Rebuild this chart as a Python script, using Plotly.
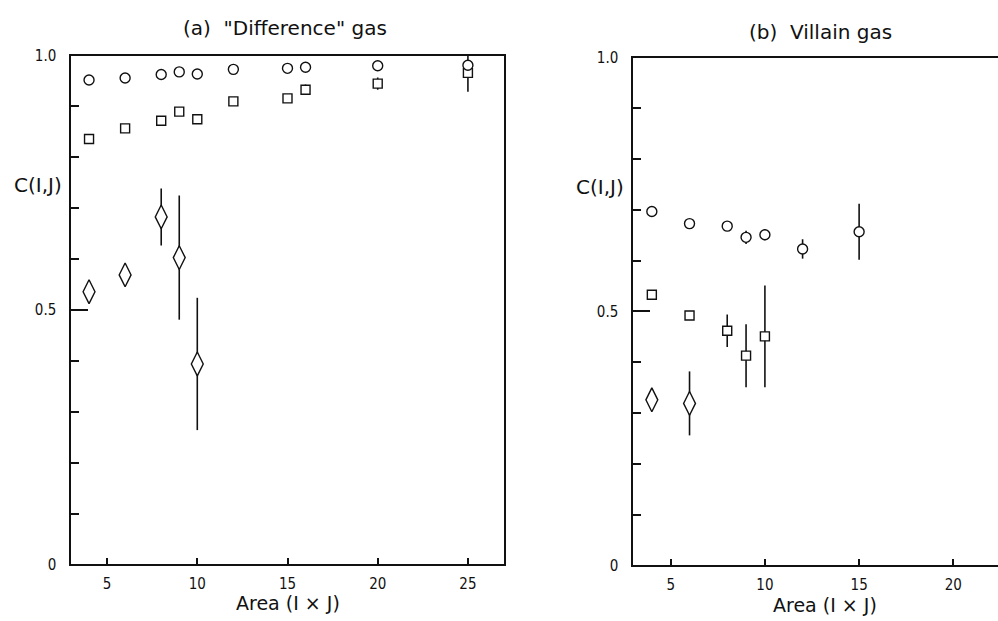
import plotly.graph_objects as go

# ---- data: panel (a) "Difference" gas ----
area_a_circ = [4, 6, 8, 9, 10, 12, 15, 16, 20, 25]
c_a_circ = [0.952, 0.956, 0.963, 0.968, 0.964, 0.973, 0.975, 0.977, 0.980, 0.981]
area_a_sq = [4, 6, 8, 9, 10, 12, 15, 16, 20, 25]
c_a_sq = [0.836, 0.857, 0.872, 0.890, 0.875, 0.910, 0.916, 0.933, 0.945, 0.966]
err_a_sq_plus = [0, 0, 0, 0, 0, 0, 0, 0.010, 0.012, 0.034]
err_a_sq_minus = [0, 0, 0, 0, 0, 0, 0, 0.010, 0.012, 0.037]
area_a_dia = [4, 6, 8, 9, 10]
c_a_dia = [0.536, 0.569, 0.683, 0.603, 0.394]
err_a_dia = [0, 0, 0.056, 0.122, 0.130]

# ---- data: panel (b) Villain gas ----
area_b_circ = [4, 6, 8, 9, 10, 12, 15]
c_b_circ = [0.697, 0.673, 0.668, 0.646, 0.651, 0.623, 0.657]
err_b_circ = [0, 0, 0, 0.013, 0.011, 0.019, 0.055]
area_b_sq = [4, 6, 8, 9, 10]
c_b_sq = [0.533, 0.492, 0.462, 0.413, 0.451]
err_b_sq = [0, 0, 0.032, 0.062, 0.100]
area_b_dia = [4, 6]
c_b_dia = [0.326, 0.319]
err_b_dia = [0, 0.063]

x_ticks_a = [5, 10, 15, 20, 25]
x_ticks_b = [5, 10, 15, 20]
y_ticks = [0, 0.5, 1.0]
y_ticktext = ["0", "0.5", "1.0"]

FONT_C = "DejaVu Sans Condensed, DejaVu Sans, sans-serif"
FONT = "DejaVu Sans, sans-serif"
BLACK = "#111111"


def marker(symbol, size):
    return dict(symbol=symbol, size=size, color="white",
                line=dict(color=BLACK, width=1.4))


def eb(arr, arrminus=None):
    d = dict(type="data", array=arr, visible=True, color=BLACK,
             thickness=1.6, width=0)
    if arrminus is not None:
        d["symmetric"] = False
        d["arrayminus"] = arrminus
    return d


fig = go.Figure()

# panel (a)
fig.add_trace(go.Scatter(x=area_a_dia, y=c_a_dia, mode="markers",
                         marker=marker("diamond-tall", 17), error_y=eb(err_a_dia),
                         xaxis="x", yaxis="y"))
fig.add_trace(go.Scatter(x=area_a_sq, y=c_a_sq, mode="markers",
                         marker=marker("square", 9),
                         error_y=eb(err_a_sq_plus, err_a_sq_minus),
                         xaxis="x", yaxis="y"))
fig.add_trace(go.Scatter(x=area_a_circ, y=c_a_circ, mode="markers",
                         marker=marker("circle", 10), xaxis="x", yaxis="y"))

# panel (b)
fig.add_trace(go.Scatter(x=area_b_dia, y=c_b_dia, mode="markers",
                         marker=marker("diamond-tall", 17), error_y=eb(err_b_dia),
                         xaxis="x2", yaxis="y2"))
fig.add_trace(go.Scatter(x=area_b_sq, y=c_b_sq, mode="markers",
                         marker=marker("square", 9), error_y=eb(err_b_sq),
                         xaxis="x2", yaxis="y2"))
fig.add_trace(go.Scatter(x=area_b_circ, y=c_b_circ, mode="markers",
                         marker=marker("circle", 10), error_y=eb(err_b_circ),
                         xaxis="x2", yaxis="y2"))

xcommon = dict(showgrid=False, zeroline=False, showline=True, linecolor=BLACK,
               linewidth=1.5, ticks="inside", ticklen=7, tickwidth=1.5,
               tickcolor=BLACK, tickfont=dict(family=FONT_C, size=15, color=BLACK),
               ticklabelstandoff=5)
ycommon = dict(showgrid=False, zeroline=False, showline=True, linecolor=BLACK,
               linewidth=1.5, ticks="inside", ticklen=17, tickwidth=1.5,
               tickcolor=BLACK, range=[0, 1.0], tickvals=y_ticks,
               ticktext=y_ticktext,
               tickfont=dict(family=FONT_C, size=15, color=BLACK),
               ticklabelstandoff=10,
               minor=dict(dtick=0.1, tick0=0, ticks="inside", ticklen=8,
                          tickwidth=1.5, tickcolor=BLACK))

fig.update_layout(
    width=998, height=621,
    margin=dict(l=0, r=0, t=0, b=0),
    paper_bgcolor="white", plot_bgcolor="white",
    showlegend=False,
    xaxis=dict(domain=[71 / 998, 504 / 998], range=[3, 27], tickvals=x_ticks_a,
               mirror=True, anchor="y", **xcommon),
    yaxis=dict(domain=[49 / 621, 573 / 621], mirror=True, anchor="x", **ycommon),
    xaxis2=dict(domain=[633 / 998, 1.0], range=[3, 22.37], tickvals=x_ticks_b,
                mirror=True, anchor="y2", **xcommon),
    yaxis2=dict(domain=[48 / 621, 571 / 621], mirror=False, anchor="x2", **ycommon),
)

ann = [
    dict(text='(a)  "Difference" gas', x=285, y=20, size=20),
    dict(text="(b)  Villain gas", x=820, y=24, size=20),
    dict(text="C(I,J)", x=38, y=181, size=20),
    dict(text="C(I,J)", x=600, y=183, size=20),
    dict(text="Area (I × J)", x=288, y=612, size=19),
    dict(text="Area (I × J)", x=825, y=614, size=19),
]
for a in ann:
    fig.add_annotation(text=a["text"], xref="paper", yref="paper",
                       x=a["x"] / 998, y=1 - a["y"] / 621,
                       xanchor="center", yanchor="middle", showarrow=False,
                       font=dict(family=FONT, size=a["size"], color=BLACK))

fig.write_html("out.html")
